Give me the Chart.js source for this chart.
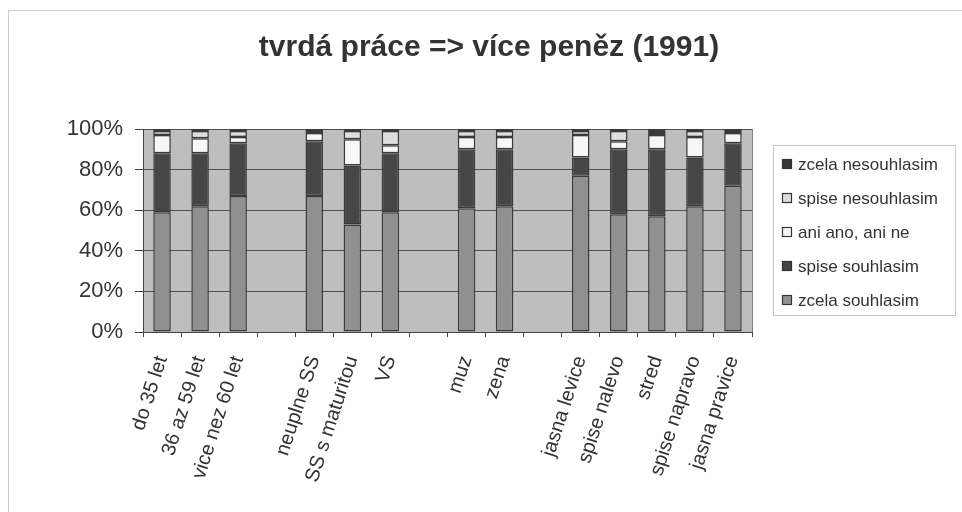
<!DOCTYPE html>
<html>
<head>
<meta charset="utf-8">
<title>tvrdá práce => více peněz (1991)</title>
<script src="https://cdn.jsdelivr.net/npm/chart.js"></script>
<style>
  html, body { margin: 0; padding: 0; background: #fff; }
  #wrap { width: 962px; height: 512px; }
</style>
</head>
<body>
<div id="wrap"><canvas id="chart" width="962" height="512"></canvas></div>
<script>
const TITLE = "tvrdá práce => více peněz (1991)";

// empty strings are the gaps between the groups
const categories = [
  "do 35 let", "36 az 59 let", "vice nez 60 let", "",
  "neuplne SS", "SS s maturitou", "VS", "",
  "muz", "zena", "",
  "jasna levice", "spise nalevo", "stred", "spise napravo", "jasna pravice",
];

// percent of answers in each group
const zcelaSouhlasim   = [59, 62, 67, null, 67, 53, 59, null, 61, 62, null, 77, 58, 57, 62, 72];
const spiseSouhlasim   = [29, 26, 26, null, 27, 29, 29, null, 29, 28, null, 9, 32, 33, 24, 21];
const aniAnoAniNe      = [9, 7.5, 3, null, 4, 13, 4, null, 6, 6, null, 11, 4, 7, 10, 5];
const spiseNesouhlasim = [2, 3.5, 3, null, 1, 4, 7, null, 3, 3, null, 2, 5, 1.5, 3, 1];
const zcelaNesouhlasim = [1, 1, 1, null, 1, 1, 1, null, 1, 1, null, 1, 1, 1.5, 1, 1];

const yTicks = [0, 20, 40, 60, 80, 100];

const series = [
  { label: "zcela souhlasim", data: zcelaSouhlasim, color: "#909090" },
  { label: "spise souhlasim", data: spiseSouhlasim, color: "#464646" },
  { label: "ani ano, ani ne", data: aniAnoAniNe, color: "#f7f7f7" },
  { label: "spise nesouhlasim", data: spiseNesouhlasim, color: "#dedede" },
  { label: "zcela nesouhlasim", data: zcelaNesouhlasim, color: "#383838" },
];

// white page, dotted frame, grey plot area
const backdrop = {
  id: "backdrop",
  beforeDraw(chart) {
    const ctx = chart.ctx;
    const a = chart.chartArea;
    ctx.save();
    ctx.fillStyle = "#fff";
    ctx.fillRect(0, 0, chart.width, chart.height);
    ctx.strokeStyle = "#9a9a9a";
    ctx.setLineDash([1, 1]);
    ctx.strokeRect(8.5, 10.5, 965, 520);
    ctx.setLineDash([]);
    ctx.fillStyle = "#bebebe";
    ctx.fillRect(a.left, a.top, a.right - a.left, a.bottom - a.top);
    ctx.strokeStyle = "#808080";
    ctx.strokeRect(a.left + 0.5, a.top + 0.5, a.right - a.left, a.bottom - a.top);
    ctx.restore();
  },
};

// title and boxed legend drawn by hand
const decor = {
  id: "decor",
  afterDraw(chart) {
    const ctx = chart.ctx;
    ctx.save();
    ctx.fillStyle = "#333";
    ctx.font = "bold 30px Arial, 'Liberation Sans', sans-serif";
    ctx.textAlign = "center";
    ctx.textBaseline = "middle";
    ctx.fillText(TITLE, 489, 48);

    ctx.strokeStyle = "#8a8a8a";
    ctx.setLineDash([1, 1]);
    ctx.strokeRect(773.5, 145.5, 182, 170);
    ctx.setLineDash([]);

    ctx.font = "17px Arial, 'Liberation Sans', sans-serif";
    ctx.textAlign = "left";
    const sets = chart.data.datasets.slice().reverse();
    sets.forEach((ds, i) => {
      const y = 164 + i * 34;
      ctx.fillStyle = ds.backgroundColor;
      ctx.fillRect(782, y - 5, 10, 10);
      ctx.strokeStyle = "#333";
      ctx.lineWidth = 1.2;
      ctx.strokeRect(782.5, y - 4.5, 9, 9);
      ctx.fillStyle = "#333";
      ctx.fillText(ds.label, 798, y + 1);
    });
    ctx.restore();
  },
};

new Chart(document.getElementById("chart"), {
  type: "bar",
  data: {
    labels: categories,
    datasets: series.map((s) => ({
      label: s.label,
      data: s.data,
      backgroundColor: s.color,
      borderColor: "#3a3a3a",
      borderWidth: 1.5,
      borderSkipped: false,
      categoryPercentage: 1,
      barPercentage: 0.46,
    })),
  },
  options: {
    responsive: false,
    animation: false,
    layout: { padding: { top: 129, right: 210, left: 0, bottom: 0 } },
    plugins: {
      legend: { display: false },
      title: { display: false },
      tooltip: { enabled: false },
    },
    scales: {
      x: {
        stacked: true,
        afterFit(scale) { scale.height = 180; },
        grid: {
          offset: true,
          drawOnChartArea: false,
          tickLength: 5,
          tickColor: "#444",
        },
        border: { color: "#444", width: 1 },
        ticks: {
          autoSkip: false,
          minRotation: 72,
          maxRotation: 72,
          padding: 16,
          color: "#333",
          font: { family: "Arial, 'Liberation Sans', sans-serif", size: 20 },
        },
      },
      y: {
        stacked: true,
        min: 0,
        max: 100,
        afterFit(scale) { scale.width = 143; },
        afterBuildTicks(scale) { scale.ticks = yTicks.map((v) => ({ value: v })); },
        grid: {
          color: "#505050",
          borderDash: [1, 2],
          tickLength: 8,
          tickColor: "#444",
          tickBorderDash: [],
        },
        border: { color: "#444", width: 1 },
        ticks: {
          padding: 12,
          color: "#333",
          callback: (v) => v + "%",
          font: { family: "Arial, 'Liberation Sans', sans-serif", size: 22 },
        },
      },
    },
  },
  plugins: [backdrop, decor],
});
</script>
</body>
</html>
